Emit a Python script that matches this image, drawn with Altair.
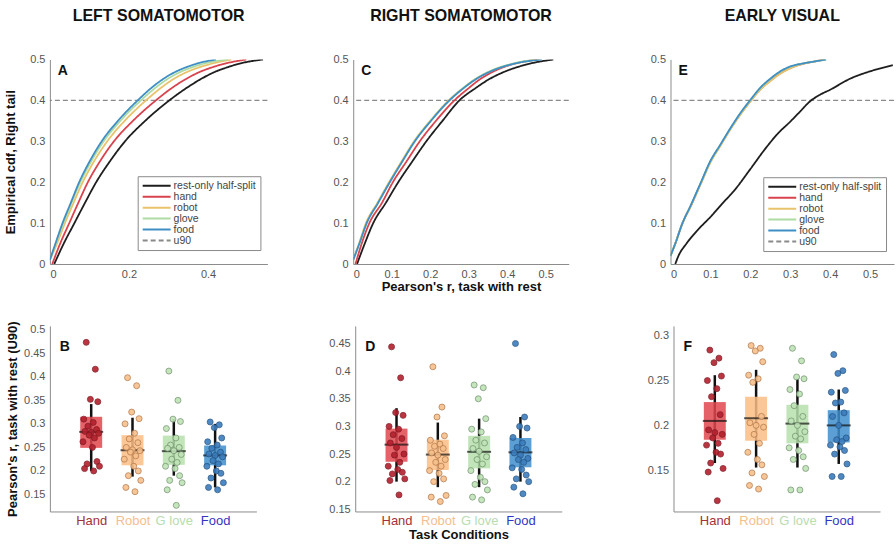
import json
import altair as alt
import pandas as pd

FONT = "Liberation Sans"

# ---------------- series / categories ----------------
SERIES = ["rest-only half-split", "hand", "robot", "glove", "food", "u90"]
SERIES_COLORS = ["#1e1e1e", "#d8434d", "#e8c36c", "#aedba3", "#3f8fc4", "#8a8a8a"]
SERIES_DASH = [[1, 0], [1, 0], [1, 0], [1, 0], [1, 0], [5, 3]]
U90_LEVEL = [0.4]

CATS = ["Hand", "Robot", "G love", "Food"]
CAT_LABEL_COLORS = ["#a3303a", "#f2c08e", "#b9dcb0", "#3434c4"]
BOX_COLORS = ["#e2474f", "#fbbd84", "#b6e0ab", "#3e8ecd"]
PT_FILL = ["#b3202e", "#f6c08c", "#bfe3b6", "#3b7dbd"]
PT_STROKE = ["#7c1820", "#b27444", "#6f8f6c", "#24527f"]

# cdf levels shared by the curves of panels A and C
CDF_LEVELS = [0, 0.05, 0.1, 0.15, 0.2, 0.25, 0.3, 0.35, 0.4, 0.43, 0.45, 0.47, 0.48, 0.49, 0.5]
CDF_LEVELS_B = [0.01, 0.05, 0.1, 0.15, 0.2, 0.25, 0.3, 0.35, 0.4, 0.43, 0.45, 0.47, 0.48, 0.49, 0.5]

# ---------------- panel A (left somatomotor) ----------------
A_rest_x = [0.011, 0.035, 0.062, 0.089, 0.117, 0.151, 0.19, 0.241, 0.302, 0.345, 0.378, 0.418, 0.446, 0.48, 0.539]
A_rest_y = CDF_LEVELS
A_hand_x = [0.006, 0.026, 0.049, 0.072, 0.096, 0.126, 0.162, 0.21, 0.268, 0.308, 0.34, 0.38, 0.408, 0.443, 0.497]
A_hand_y = CDF_LEVELS
A_robot_x = [0, 0.018, 0.038, 0.06, 0.083, 0.111, 0.145, 0.189, 0.243, 0.28, 0.309, 0.348, 0.375, 0.41, 0.459]
A_robot_y = CDF_LEVELS_B
A_glove_x = [0, 0.015, 0.034, 0.055, 0.077, 0.104, 0.136, 0.178, 0.23, 0.266, 0.294, 0.331, 0.357, 0.39, 0.45]
A_glove_y = CDF_LEVELS_B
A_food_x = [0, 0.014, 0.032, 0.053, 0.074, 0.1, 0.131, 0.172, 0.222, 0.256, 0.283, 0.318, 0.342, 0.372, 0.42]
A_food_y = CDF_LEVELS_B

# ---------------- panel C (right somatomotor) ----------------
C_rest_x = [0.01, 0.03, 0.052, 0.085, 0.117, 0.153, 0.19, 0.232, 0.276, 0.318, 0.35, 0.393, 0.422, 0.46, 0.52]
C_rest_y = CDF_LEVELS
C_hand_x = [0.006, 0.022, 0.042, 0.075, 0.103, 0.138, 0.173, 0.215, 0.263, 0.3, 0.327, 0.363, 0.387, 0.42, 0.478]
C_hand_y = CDF_LEVELS
C_robot_x = [0, 0.015, 0.033, 0.063, 0.093, 0.125, 0.158, 0.2, 0.248, 0.285, 0.314, 0.353, 0.38, 0.42, 0.485]
C_robot_y = CDF_LEVELS_B
C_glove_x = [0, 0.016, 0.035, 0.065, 0.095, 0.127, 0.16, 0.201, 0.25, 0.286, 0.314, 0.352, 0.378, 0.415, 0.47]
C_glove_y = CDF_LEVELS_B
C_food_x = [0, 0.016, 0.035, 0.065, 0.095, 0.127, 0.16, 0.202, 0.25, 0.287, 0.316, 0.355, 0.382, 0.42, 0.49]
C_food_y = CDF_LEVELS_B

# ---------------- panel E (early visual) ----------------
E_rest_x = [0.012, 0.02, 0.04, 0.07, 0.1, 0.13, 0.16, 0.2, 0.24, 0.27, 0.3, 0.325, 0.35, 0.375, 0.4, 0.45, 0.5, 0.557]
E_rest_y = [0, 0.02, 0.05, 0.085, 0.115, 0.148, 0.18, 0.232, 0.285, 0.32, 0.348, 0.373, 0.398, 0.414, 0.426, 0.453, 0.471, 0.486]
E_hand_x = [0, 0.012, 0.03, 0.05, 0.075, 0.1, 0.125, 0.15, 0.175, 0.2, 0.225, 0.25, 0.275, 0.3, 0.33, 0.36, 0.385]
E_hand_y = [0.02, 0.05, 0.1, 0.14, 0.195, 0.25, 0.29, 0.33, 0.366, 0.398, 0.427, 0.448, 0.466, 0.479, 0.489, 0.495, 0.5]
E_robot_x = [0, 0.012, 0.03, 0.05, 0.075, 0.1, 0.125, 0.15, 0.175, 0.2, 0.225, 0.25, 0.275, 0.3, 0.33, 0.36, 0.387]
E_robot_y = [0.02, 0.05, 0.1, 0.14, 0.194, 0.248, 0.289, 0.329, 0.365, 0.397, 0.426, 0.447, 0.465, 0.478, 0.489, 0.495, 0.5]
E_glove_x = [0, 0.012, 0.03, 0.05, 0.075, 0.1, 0.125, 0.15, 0.175, 0.2, 0.225, 0.25, 0.275, 0.3, 0.33, 0.36, 0.39]
E_glove_y = [0.02, 0.05, 0.1, 0.141, 0.196, 0.251, 0.291, 0.331, 0.368, 0.4, 0.43, 0.452, 0.47, 0.482, 0.49, 0.495, 0.5]
E_food_x = [0, 0.012, 0.03, 0.05, 0.075, 0.1, 0.125, 0.15, 0.175, 0.2, 0.225, 0.25, 0.275, 0.3, 0.33, 0.36, 0.39]
E_food_y = [0.02, 0.05, 0.1, 0.142, 0.197, 0.252, 0.292, 0.332, 0.369, 0.401, 0.431, 0.453, 0.471, 0.483, 0.49, 0.495, 0.5]

# ---------------- box panels: individual values ----------------
B_hand = [0.473, 0.416, 0.352, 0.347, 0.31, 0.303, 0.295, 0.288, 0.284, 0.282, 0.28, 0.276, 0.27, 0.262, 0.25, 0.22, 0.215, 0.21, 0.205, 0.2]
B_robot = [0.398, 0.381, 0.325, 0.311, 0.30, 0.28, 0.268, 0.26, 0.25, 0.245, 0.243, 0.24, 0.232, 0.225, 0.21, 0.2, 0.19, 0.18, 0.165, 0.156]
B_glove = [0.412, 0.35, 0.31, 0.305, 0.29, 0.27, 0.255, 0.25, 0.248, 0.243, 0.235, 0.225, 0.218, 0.21, 0.205, 0.19, 0.18, 0.175, 0.16, 0.127]
B_food = [0.304, 0.298, 0.292, 0.27, 0.262, 0.255, 0.248, 0.24, 0.236, 0.233, 0.23, 0.222, 0.215, 0.21, 0.2, 0.195, 0.185, 0.175, 0.165, 0.16]
B_q1 = [0.249, 0.212, 0.213, 0.212]
B_med = [0.283, 0.244, 0.242, 0.233]
B_q3 = [0.315, 0.276, 0.275, 0.254]
B_lo = [0.2, 0.188, 0.19, 0.165]
B_hi = [0.342, 0.313, 0.31, 0.3]

D_hand = [0.444, 0.388, 0.325, 0.32, 0.3, 0.295, 0.285, 0.278, 0.27, 0.262, 0.25, 0.248, 0.235, 0.228, 0.222, 0.217, 0.214, 0.205, 0.202, 0.176]
D_robot = [0.408, 0.335, 0.317, 0.283, 0.275, 0.268, 0.264, 0.26, 0.252, 0.248, 0.24, 0.235, 0.228, 0.22, 0.215, 0.205, 0.2, 0.175, 0.172, 0.164]
D_glove = [0.375, 0.37, 0.35, 0.314, 0.295, 0.29, 0.275, 0.27, 0.26, 0.255, 0.245, 0.24, 0.232, 0.22, 0.208, 0.2, 0.195, 0.185, 0.172, 0.167]
D_food = [0.45, 0.317, 0.3, 0.297, 0.28, 0.27, 0.262, 0.258, 0.252, 0.248, 0.242, 0.24, 0.235, 0.225, 0.222, 0.212, 0.205, 0.2, 0.19, 0.178]
D_q1 = [0.236, 0.221, 0.224, 0.226]
D_med = [0.267, 0.249, 0.254, 0.253]
D_q3 = [0.296, 0.276, 0.283, 0.279]
D_lo = [0.2, 0.19, 0.19, 0.2]
D_hi = [0.333, 0.307, 0.314, 0.317]

F_hand = [0.284, 0.275, 0.27, 0.255, 0.25, 0.241, 0.232, 0.212, 0.195, 0.192, 0.19, 0.186, 0.18, 0.178, 0.17, 0.168, 0.158, 0.152, 0.148, 0.116]
F_robot = [0.289, 0.286, 0.283, 0.271, 0.256, 0.252, 0.248, 0.21, 0.203, 0.2, 0.198, 0.19, 0.18, 0.17, 0.162, 0.156, 0.147, 0.143, 0.133, 0.129]
F_glove = [0.286, 0.272, 0.254, 0.252, 0.24, 0.235, 0.222, 0.21, 0.205, 0.2, 0.193, 0.188, 0.185, 0.175, 0.172, 0.165, 0.162, 0.152, 0.128, 0.128]
F_food = [0.279, 0.261, 0.258, 0.239, 0.237, 0.226, 0.225, 0.214, 0.21, 0.2, 0.186, 0.184, 0.182, 0.178, 0.176, 0.172, 0.168, 0.157, 0.143, 0.143]
F_q1 = [0.184, 0.183, 0.18, 0.181]
F_med = [0.205, 0.208, 0.202, 0.2]
F_q3 = [0.226, 0.232, 0.223, 0.217]
F_lo = [0.158, 0.153, 0.153, 0.157]
F_hi = [0.256, 0.262, 0.252, 0.24]

# horizontal spread of the dots inside a category (category units)
JITTER = [-0.12, 0.10, -0.02, 0.16, -0.18, 0.05, -0.08, 0.13, -0.15, 0.0,
          0.18, -0.05, 0.08, -0.2, 0.03, 0.14, -0.1, 0.2, -0.16, 0.06]


def cdf_panel(curves, letter, title, xdomain, width, xticks, xtitle, ytitle,
              legend_xy, ytitle_pad):
    rows = []
    for name, xs, ys in curves:
        for k, (x, y) in enumerate(zip(xs, ys)):
            rows.append({"series": name, "r": x, "cdf": y, "k": k})
    df = pd.DataFrame(rows)
    cscale = alt.Scale(domain=SERIES, range=SERIES_COLORS)
    dscale = alt.Scale(domain=SERIES, range=SERIES_DASH)
    leg = alt.Legend(title=None, orient="none", legendX=legend_xy[0], legendY=legend_xy[1],
                     symbolType="stroke", symbolStrokeWidth=2, symbolSize=784,
                     clipHeight=11,
                     labelFontSize=10.5, labelColor="#444", labelFont=FONT,
                     strokeColor="#8a8a8a", fillColor="white", padding=4,
                     rowPadding=0, labelLimit=200, labelOffset=2)
    xaxis = alt.Axis(values=xticks, format=".1~f", title=xtitle, titlePadding=1)
    yaxis = alt.Axis(values=[0, 0.1, 0.2, 0.3, 0.4, 0.5], format=".1~f",
                     title=ytitle, titlePadding=ytitle_pad)
    xs = alt.Scale(domain=xdomain, nice=False, zero=False, padding=0)
    ys = alt.Scale(domain=[0, 0.5], nice=False, padding=0)

    lines = alt.Chart(df).mark_line(strokeWidth=1.8, clip=True, interpolate="monotone").encode(
        x=alt.X("r:Q", scale=xs, axis=xaxis),
        y=alt.Y("cdf:Q", scale=ys, axis=yaxis),
        color=alt.Color("series:N", scale=cscale, legend=leg),
        strokeDash=alt.StrokeDash("series:N", scale=dscale, legend=leg),
        order="k:Q",
    )
    rule = alt.Chart(pd.DataFrame({"series": ["u90"], "u": U90_LEVEL})).mark_rule(
        strokeWidth=1.4).encode(
        y=alt.Y("u:Q", scale=ys, axis=yaxis),
        color=alt.Color("series:N", scale=cscale, legend=leg),
        strokeDash=alt.StrokeDash("series:N", scale=dscale, legend=leg),
    )
    lab = alt.Chart(pd.DataFrame({"t": [letter]})).mark_text(
        align="left", baseline="top", font=FONT, fontSize=14, fontWeight="bold",
        color="#111").encode(text="t:N", x=alt.value(8), y=alt.value(5))
    return alt.layer(rule, lines, lab).properties(
        width=width, height=205,
        title=alt.TitleParams(title, offset=30, anchor="middle", frame="group"))


def box_panel(values, q1, med, q3, lo, hi, letter, ydomain, yvalues, ytitle, xtitle,
              ytitle_pad):
    prow = []
    for ci, vals in enumerate(values):
        for i, v in enumerate(vals):
            prow.append({"cat": CATS[ci], "pos": ci + 1 + JITTER[i % len(JITTER)], "val": v})
    pdf = pd.DataFrame(prow)
    sdf = pd.DataFrame({"cat": CATS, "pos": [1, 2, 3, 4], "q1": q1, "med": med,
                        "q3": q3, "lo": lo, "hi": hi})
    xs = alt.Scale(domain=[0, 5], nice=False, zero=False, padding=0)
    ys = alt.Scale(domain=ydomain, nice=False, zero=False, padding=0)
    xaxis = alt.Axis(values=[1, 2, 3, 4],
                     labelExpr=json.dumps(CATS) + "[datum.value - 1]",
                     labelColor={"expr": json.dumps(CAT_LABEL_COLORS) + "[datum.value - 1]"},
                     labelFontSize=13, labelOverlap=False, labelBound=False,
                     labelPadding=3, title=xtitle, titlePadding=1)
    yaxis = alt.Axis(values=yvalues, format=".2~f", title=ytitle, titlePadding=ytitle_pad)
    X = alt.X("pos:Q", scale=xs, axis=xaxis)

    whisk = alt.Chart(sdf).mark_rule(color="#111", strokeWidth=2.5).encode(
        x=X, y=alt.Y("lo:Q", scale=ys, axis=yaxis), y2="hi:Q")
    box = alt.Chart(sdf).mark_bar(size=22, opacity=0.85).encode(
        x=X, y=alt.Y("q1:Q", scale=ys, axis=yaxis), y2="q3:Q",
        color=alt.Color("cat:N", scale=alt.Scale(domain=CATS, range=BOX_COLORS), legend=None))
    mid = alt.Chart(sdf).mark_tick(orient="horizontal", size=24, thickness=2, color="#111").encode(
        x=X, y=alt.Y("med:Q", scale=ys, axis=yaxis))
    pts = alt.Chart(pdf).mark_circle(size=36, strokeWidth=0.8, opacity=0.9).encode(
        x=X, y=alt.Y("val:Q", scale=ys, axis=yaxis),
        fill=alt.Fill("cat:N", scale=alt.Scale(domain=CATS, range=PT_FILL), legend=None),
        stroke=alt.Stroke("cat:N", scale=alt.Scale(domain=CATS, range=PT_STROKE), legend=None))
    lab = alt.Chart(pd.DataFrame({"t": [letter]})).mark_text(
        align="left", baseline="top", font=FONT, fontSize=14, fontWeight="bold",
        color="#111").encode(text="t:N", x=alt.value(10), y=alt.value(14))
    return alt.layer(whisk, box, mid, pts, lab).properties(width=207, height=186)


pA = cdf_panel([("rest-only half-split", A_rest_x, A_rest_y), ("hand", A_hand_x, A_hand_y),
                ("robot", A_robot_x, A_robot_y), ("glove", A_glove_x, A_glove_y),
                ("food", A_food_x, A_food_y)],
               "A", "LEFT SOMATOMOTOR", [0, 0.55], 218, [0, 0.2, 0.4], None,
               "Empirical cdf, Right tail", (88, 117), 12)
pC = cdf_panel([("rest-only half-split", C_rest_x, C_rest_y), ("hand", C_hand_x, C_hand_y),
                ("robot", C_robot_x, C_robot_y), ("glove", C_glove_x, C_glove_y),
                ("food", C_food_x, C_food_y)],
               "C", "RIGHT SOMATOMOTOR", [0, 0.56], 216, [0, 0.1, 0.2, 0.3, 0.4, 0.5],
               "Pearson's r, task with rest", None, (99, 116), 5)
pE = cdf_panel([("rest-only half-split", E_rest_x, E_rest_y), ("hand", E_hand_x, E_hand_y),
                ("robot", E_robot_x, E_robot_y), ("glove", E_glove_x, E_glove_y),
                ("food", E_food_x, E_food_y)],
               "E", "EARLY VISUAL", [0, 0.56], 224, [0, 0.1, 0.2, 0.3, 0.4, 0.5],
               None, None, (93, 118), 5)

pB = box_panel([B_hand, B_robot, B_glove, B_food], B_q1, B_med, B_q3, B_lo, B_hi, "B",
               [0.114, 0.508], [0.15, 0.2, 0.25, 0.3, 0.35, 0.4, 0.45, 0.5],
               "Pearson's r, task with rest (U90)", None, 4)
pD = box_panel([D_hand, D_robot, D_glove, D_food], D_q1, D_med, D_q3, D_lo, D_hi, "D",
               [0.146, 0.482], [0.15, 0.2, 0.25, 0.3, 0.35, 0.4, 0.45],
               None, "Task Conditions", 4)
pF = box_panel([F_hand, F_robot, F_glove, F_food], F_q1, F_med, F_q3, F_lo, F_hi, "F",
               [0.104, 0.311], [0.15, 0.2, 0.25, 0.3],
               None, None, 4)

top = alt.hconcat(alt.hconcat(pA, pC, spacing=63), pE, spacing=79).resolve_legend(
    color="independent", strokeDash="independent").resolve_scale(
    color="independent", strokeDash="independent")
bottom = alt.hconcat(alt.hconcat(pB, pD, spacing=71), pF, spacing=84).resolve_scale(
    color="independent", fill="independent", stroke="independent")

chart = alt.vconcat(top, bottom, spacing=25).properties(
    padding={"left": 4, "top": 6, "right": 0, "bottom": 0}
).configure_view(stroke="transparent").configure_axis(
    domainColor="#8c8c8c", labelColor="#555", labelFont=FONT, titleFont=FONT,
    grid=False, ticks=False, labelFontSize=11, titleFontSize=13,
    titleFontWeight="bold", titleColor="#111", labelPadding=5
).configure_title(font=FONT, fontSize=16, fontWeight="bold", color="#111")

chart.save("out.html", embed_options={"renderer": "svg", "actions": False})
